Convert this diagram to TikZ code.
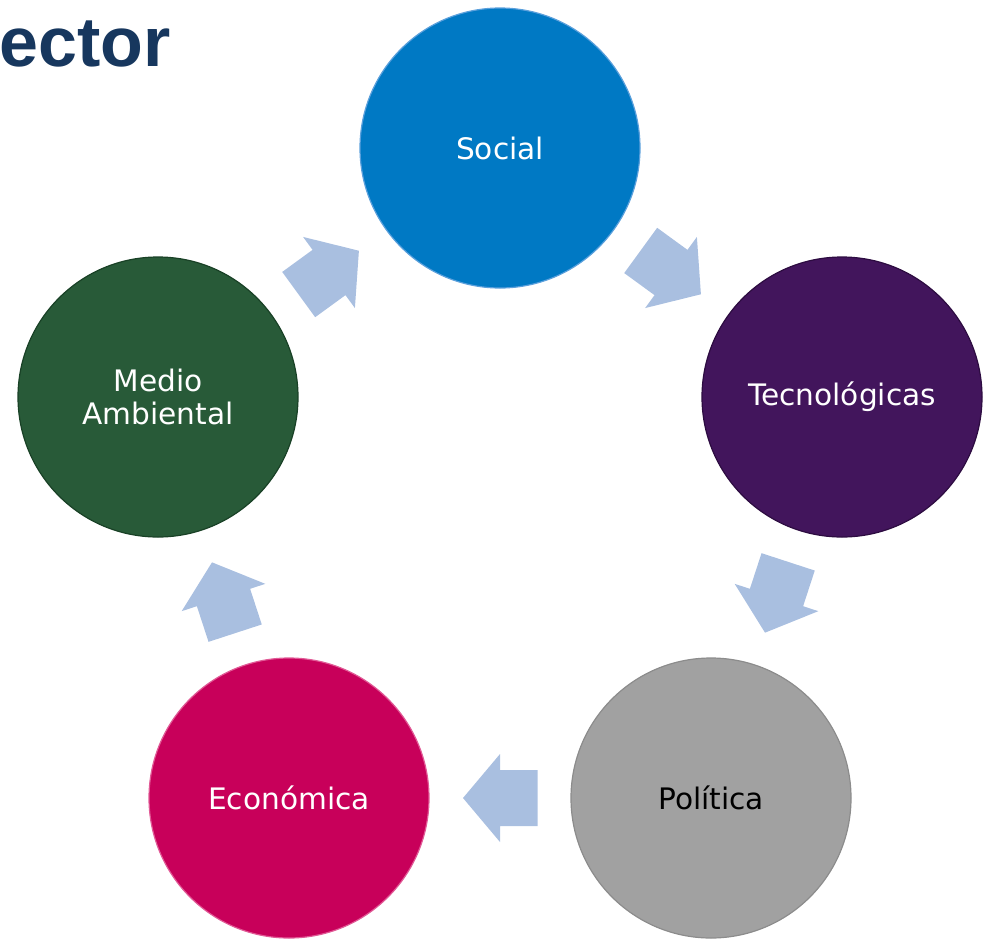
\documentclass[tikz,border=0pt]{standalone}
\usepackage{fontspec}
\setmainfont{DejaVu Sans}
\newfontfamily\headfont{Liberation Sans}
\usetikzlibrary{calc}
\definecolor{headblue}{RGB}{23,55,94}
\definecolor{socialfill}{RGB}{0,121,196}
\definecolor{socialedge}{RGB}{91,160,220}
\definecolor{tecfill}{RGB}{66,21,92}
\definecolor{tecedge}{RGB}{45,12,65}
\definecolor{polfill}{RGB}{161,161,161}
\definecolor{poledge}{RGB}{140,140,140}
\definecolor{ecofill}{RGB}{200,0,90}
\definecolor{ecoedge}{RGB}{225,90,150}
\definecolor{medfill}{RGB}{40,90,56}
\definecolor{mededge}{RGB}{25,65,38}
\definecolor{flowfill}{RGB}{169,191,224}
\begin{document}
\begin{tikzpicture}[x=1pt,y=-1pt,
  stage/.style={circle, minimum size=280pt, inner sep=0pt, line width=1.2pt,
    font=\fontsize{29.6}{33}\selectfont, text=white, align=center},
  pics/flow/.style={code={
    \fill[flowfill] (-37.5,-28) -- (0,-28) -- (0,-44) -- (37,0)
      -- (0,44) -- (0,28) -- (-37.5,28) -- cycle;}}
]
\useasboundingbox (0,0) rectangle (988,938);

% heading fragment
\node[anchor=base west, inner sep=0pt, text=headblue,
  font=\headfont\bfseries\fontsize{70}{70}\selectfont] (head) at (-1,66) {ector};

% the five stages
\node[stage, fill=socialfill, draw=socialedge] (social) at (500,148) {Social};
\node[stage, fill=tecfill, draw=tecedge] (tec) at (842,397) {Tecnológicas};
\node[stage, fill=polfill, draw=poledge, text=black] (pol) at (711,798) {Política};
\node[stage, fill=ecofill, draw=ecoedge] (eco) at (289,798) {Económica};
\node[stage, fill=medfill, draw=mededge] (med) at (158,397) {Medio\\Ambiental};

% block arrows halfway between neighbouring stages
\path (med.center) -- pic[pos=0.5, sloped, allow upside down] {flow} (social.center);
\path (social.center) -- pic[pos=0.5, sloped, allow upside down] {flow} (tec.center);
\path (tec.center) -- pic[pos=0.5, sloped, allow upside down] {flow} (pol.center);
\path (pol.center) -- pic[pos=0.5, sloped, allow upside down] {flow} (eco.center);
\path (eco.center) -- pic[pos=0.5, sloped, allow upside down] {flow} (med.center);
\end{tikzpicture}
\end{document}
